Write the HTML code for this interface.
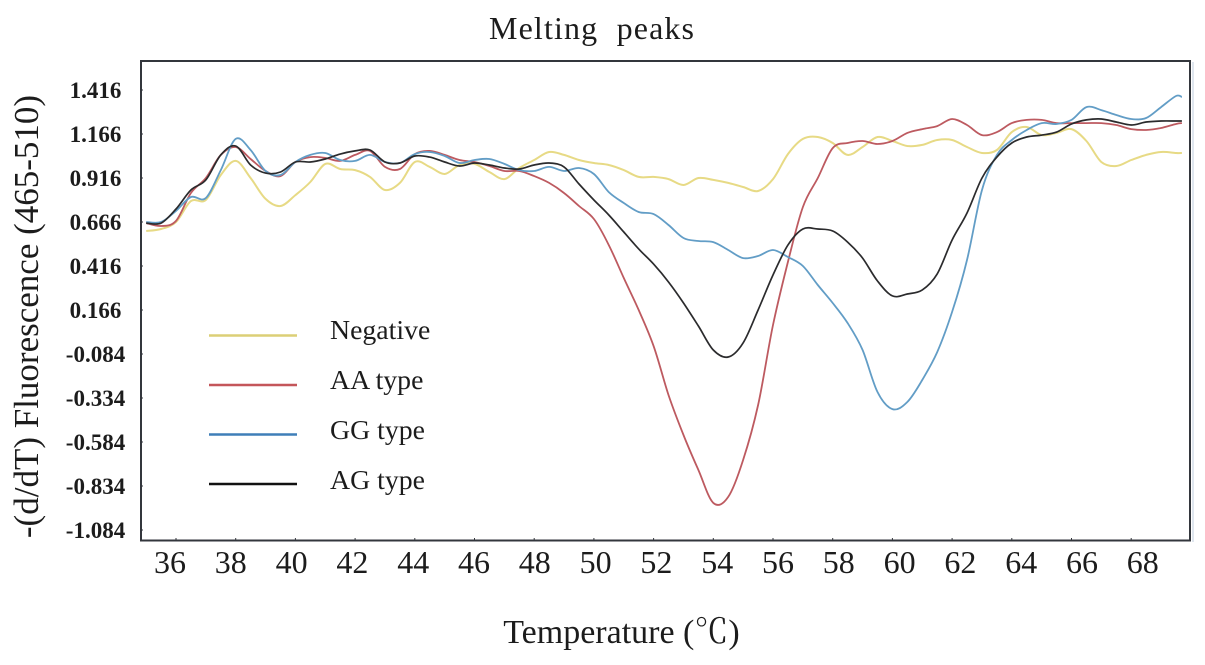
<!DOCTYPE html>
<html lang="en">
<head>
<meta charset="utf-8">
<title>Melting peaks</title>
<style>
html,body{margin:0;padding:0;background:#fff;}
svg{display:block;}
text{font-family:"Liberation Serif","Noto Serif CJK SC",serif;fill:#1c1c1c;}
</style>
</head>
<body>
<svg id="chart" xmlns="http://www.w3.org/2000/svg" width="1205" height="665" viewBox="0 0 1205 665">
  <rect x="1192" y="62" width="2" height="480" fill="#dfe6ee"></rect>
  <rect x="141" y="61" width="1049" height="479.5" fill="#fff" stroke="#33363c" stroke-width="2"></rect>
  <g id="ticks"></g>
  <g id="series"></g>
  <g id="labels"></g>
  <text x="489" y="39" font-size="32" textLength="205" lengthAdjust="spacing" xml:space="preserve" style="white-space:pre">Melting  peaks</text>
  <text transform="translate(38,316.5) rotate(-90)" font-size="35" text-anchor="middle">-(d/dT) Fluorescence (465-510)</text>
  <text x="621.5" y="643" font-size="34" text-anchor="middle">Temperature (℃)</text>
  <g>
    <line x1="209" y1="335.5" x2="297" y2="335.5" stroke="#dccf76" stroke-width="2.4"></line>
    <text x="330" y="339" font-size="27.8">Negative</text>
    <line x1="209" y1="385" x2="297" y2="385" stroke="#c4565a" stroke-width="2.4"></line>
    <text x="330" y="389" font-size="27.8">AA type</text>
    <line x1="209" y1="434.5" x2="297" y2="434.5" stroke="#3f7fb8" stroke-width="2.4"></line>
    <text x="330" y="439" font-size="27.8">GG type</text>
    <line x1="209" y1="484" x2="297" y2="484" stroke="#111" stroke-width="2.4"></line>
    <text x="330" y="489" font-size="27.8">AG type</text>
  </g>
</svg>
<script>
const temps = [35,35.5,36,36.5,37,37.5,38,38.5,39,39.5,40,40.5,41,41.5,42,42.5,43,43.5,44,44.5,45,45.5,46,46.5,47,47.5,48,48.5,49,49.5,50,50.5,51,51.5,52,52.5,53,53.5,54,54.5,55,55.5,56,56.5,57,57.5,58,58.5,59,59.5,60,60.5,61,61.5,62,62.5,63,63.5,64,64.5,65,65.5,66,66.5,67,67.5,68,68.5,69,69.5,69.7];
const negative = [0.615,0.626,0.666,0.785,0.791,0.933,1.013,0.916,0.797,0.757,0.819,0.893,0.996,0.967,0.961,0.922,0.848,0.888,1.007,0.979,0.939,0.990,0.996,0.950,0.910,0.973,1.018,1.064,1.047,1.018,1.001,0.990,0.961,0.922,0.922,0.910,0.876,0.916,0.905,0.888,0.865,0.842,0.910,1.052,1.138,1.149,1.115,1.047,1.092,1.149,1.126,1.098,1.104,1.132,1.132,1.092,1.058,1.075,1.177,1.206,1.160,1.172,1.194,1.126,1.007,0.984,1.018,1.047,1.064,1.058,1.058];
const aaType = [0.660,0.643,0.672,0.831,0.916,1.047,1.092,1.024,0.956,0.927,1.007,1.035,1.030,1.013,1.047,1.070,0.979,0.967,1.052,1.070,1.047,1.018,1.007,0.984,0.956,0.956,0.927,0.888,0.831,0.757,0.683,0.535,0.348,0.166,-0.039,-0.317,-0.544,-0.743,-0.930,-0.896,-0.686,-0.374,0.081,0.439,0.751,0.916,1.086,1.115,1.126,1.109,1.126,1.172,1.194,1.211,1.251,1.217,1.160,1.177,1.228,1.246,1.246,1.228,1.228,1.228,1.228,1.217,1.194,1.189,1.200,1.223,1.228];
const ggType = [0.666,0.666,0.729,0.808,0.802,0.961,1.138,1.075,0.956,0.933,1.007,1.047,1.058,1.018,1.013,1.047,1.007,1.001,1.052,1.064,1.041,1.001,1.018,1.024,0.996,0.961,0.956,0.979,0.956,0.973,0.939,0.836,0.774,0.723,0.711,0.649,0.575,0.558,0.552,0.507,0.461,0.473,0.507,0.467,0.416,0.308,0.206,0.092,-0.061,-0.300,-0.397,-0.357,-0.231,-0.073,0.155,0.450,0.848,1.047,1.132,1.189,1.228,1.223,1.246,1.319,1.302,1.274,1.251,1.257,1.319,1.382,1.376];
const agType = [0.660,0.660,0.740,0.848,0.905,1.047,1.098,0.990,0.944,0.950,1.007,1.007,1.024,1.052,1.070,1.075,1.007,1.001,1.041,1.035,1.007,0.984,1.001,0.990,0.973,0.967,0.990,1.001,0.979,0.882,0.791,0.706,0.609,0.513,0.427,0.325,0.206,0.075,-0.061,-0.101,-0.021,0.166,0.365,0.535,0.626,0.626,0.615,0.552,0.461,0.331,0.246,0.257,0.280,0.371,0.564,0.717,0.916,1.035,1.115,1.149,1.160,1.177,1.223,1.246,1.251,1.234,1.217,1.234,1.240,1.240,1.240];
const xTickValues = [36,38,40,42,44,46,48,50,52,54,56,58,60,62,64,66,68];
const yTickLabels = ["1.416","1.166","0.916","0.666","0.416","0.166","-0.084","-0.334","-0.584","-0.834","-1.084"];

const SVG_NS = 'http://www.w3.org/2000/svg';
function xScale(t){ return 176 + (t - 36) * 29.85; }
function xLabelScale(t){ return 170 + (t - 36) * 30.4; }
function yScale(v){ return 90 + (1.416 - v) * 176; }

function smoothPath(xs, ys){
  let d = 'M' + xs[0].toFixed(1) + ' ' + ys[0].toFixed(1);
  for (let i = 0; i < xs.length - 1; i++) {
    const p0 = Math.max(i - 1, 0), p2 = i + 1, p3 = Math.min(i + 2, xs.length - 1);
    const c1x = xs[i] + (xs[p2] - xs[p0]) / 6, c1y = ys[i] + (ys[p2] - ys[p0]) / 6;
    const c2x = xs[p2] - (xs[p3] - xs[i]) / 6, c2y = ys[p2] - (ys[p3] - ys[i]) / 6;
    d += 'C' + c1x.toFixed(1) + ' ' + c1y.toFixed(1) + ' ' + c2x.toFixed(1) + ' ' + c2y.toFixed(1) + ' ' + xs[p2].toFixed(1) + ' ' + ys[p2].toFixed(1);
  }
  return d;
}

const seriesGroup = document.getElementById('series');
function drawSeries(values, color, name, width){
  const n = Math.min(values.length, temps.length);
  const xs = [], ys = [];
  for (let i = 0; i < n; i++) { xs.push(xScale(temps[i])); ys.push(yScale(values[i])); }
  const path = document.createElementNS(SVG_NS, 'path');
  path.setAttribute('d', smoothPath(xs, ys));
  path.setAttribute('fill', 'none');
  path.setAttribute('stroke', color);
  path.setAttribute('stroke-width', width);
  path.setAttribute('stroke-linejoin', 'round');
  
  
  seriesGroup.appendChild(path);
}
drawSeries(negative, '#e7da85', 'series-negative', 2);
drawSeries(aaType, '#bd5a60', 'series-aa-type', 1.8);
drawSeries(ggType, '#629dc6', 'series-gg-type', 1.8);
drawSeries(agType, '#2b2b2d', 'series-ag-type', 1.7);

const ticksGroup = document.getElementById('ticks');
const labelsGroup = document.getElementById('labels');
xTickValues.forEach(function(t){
  const tick = document.createElementNS(SVG_NS, 'line');
  tick.setAttribute('x1', xScale(t));
  tick.setAttribute('x2', xScale(t));
  tick.setAttribute('y1', 538);
  tick.setAttribute('y2', 541);
  tick.setAttribute('stroke', '#33363c');
  
  
  ticksGroup.appendChild(tick);
  const label = document.createElementNS(SVG_NS, 'text');
  label.setAttribute('x', xLabelScale(t));
  label.setAttribute('y', 573);
  label.setAttribute('font-size', '32');
  label.setAttribute('text-anchor', 'middle');
  
  
  label.textContent = String(t);
  labelsGroup.appendChild(label);
});
yTickLabels.forEach(function(s){
  const v = parseFloat(s);
  const tick = document.createElementNS(SVG_NS, 'line');
  tick.setAttribute('x1', 140);
  tick.setAttribute('x2', 143);
  tick.setAttribute('y1', yScale(v));
  tick.setAttribute('y2', yScale(v));
  tick.setAttribute('stroke', '#33363c');
  
  
  ticksGroup.appendChild(tick);
  const label = document.createElementNS(SVG_NS, 'text');
  label.setAttribute('x', 95.5);
  label.setAttribute('y', yScale(v) + 8);
  label.setAttribute('font-size', '23');
  label.setAttribute('font-weight', 'bold');
  label.setAttribute('text-anchor', 'middle');
  
  
  label.textContent = s;
  labelsGroup.appendChild(label);
});
</script>
</body>
</html>
